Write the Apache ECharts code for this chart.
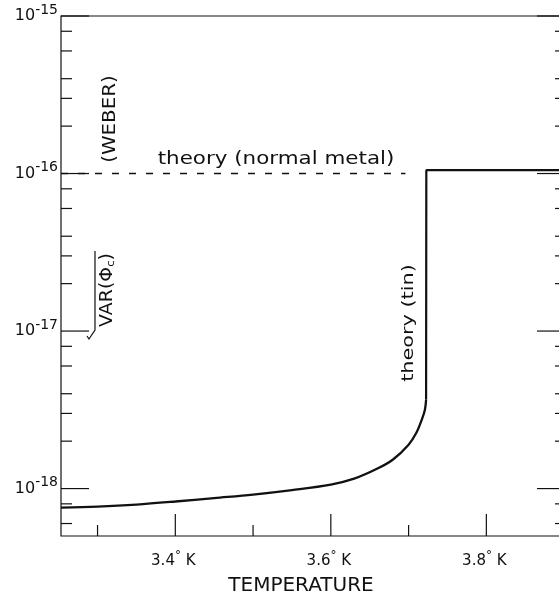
<!DOCTYPE html>
<html><head><meta charset="utf-8">
<script src="https://cdn.jsdelivr.net/npm/echarts@6/dist/echarts.min.js"></script>
<style>html,body{margin:0;padding:0;background:#fff}#c{width:559px;height:598px}</style>
</head><body><div id="c"></div>
<script>
// ---- data ----
const tinT = [3.253, 3.30, 3.35, 3.40, 3.45, 3.50, 3.55, 3.60, 3.63, 3.66, 3.68, 3.70, 3.71, 3.717, 3.721, 3.7225];
const tinV = [7.57e-19, 7.69e-19, 7.92e-19, 8.28e-19, 8.71e-19, 9.16e-19, 9.78e-19, 1.06e-18, 1.156e-18, 1.34e-18, 1.53e-18, 1.90e-18, 2.26e-18, 2.74e-18, 3.17e-18, 3.66e-18];
const stepT = [3.7225, 3.7228, 3.896];
const stepV = [3.66e-18, 1.05e-16, 1.05e-16];
const normalT = [3.253, 3.696];
const normalV = [1e-16, 1e-16];
const yMajor = [1e-18, 1e-17, 1e-16, 1e-15];
const yMajorExp = ['-18', '-17', '-16', '-15'];
const yMinor = [6e-19, 8e-19, 2e-18, 3e-18, 4e-18, 6e-18, 8e-18, 2e-17, 3e-17, 4e-17, 6e-17, 8e-17, 2e-16, 3e-16, 4e-16, 6e-16, 8e-16];
const xMajor = [3.4, 3.6, 3.8];
const xMajorLabels = ['3.4', '3.6', '3.8'];
const xMinor = [3.3, 3.5, 3.7];
const X_MIN = 3.253, X_MAX = 3.896, Y_MIN = 5e-19, Y_MAX = 1e-15;

const FONT = '"DejaVu Sans", "Liberation Sans", sans-serif';
const INK = '#111';

function yTicks(values, major) {
  return {
    type: 'custom', coordinateSystem: 'cartesian2d', clip: false, silent: true, z: 5,
    data: values.map((v, i) => [X_MIN, v, i]),
    renderItem(params, api) {
      const p = api.coord([X_MIN, api.value(1)]);
      const cs = params.coordSys;
      const l = cs.x, r = cs.x + cs.width;
      const kids = [
        {type: 'line', shape: {x1: l, y1: p[1], x2: l + (major ? 28 : 11), y2: p[1]}, style: {stroke: INK, lineWidth: 1.2}},
        {type: 'line', shape: {x1: r - (major ? 24 : 6), y1: p[1], x2: r, y2: p[1]}, style: {stroke: INK, lineWidth: 1.2}}
      ];
      if (major) {
        const idx = api.value(2);
        kids.push({type: 'text', x: l - 3, y: p[1], style: {
          text: '10{s|' + yMajorExp[idx] + '}', font: '16px ' + FONT, fill: INK,
          align: 'right', verticalAlign: 'middle', textAlign: 'right', textVerticalAlign: 'middle',
          rich: {s: {fontSize: 14, fontFamily: FONT, padding: [0, 0, 12, 0], fill: INK}}
        }});
      }
      return {type: 'group', children: kids};
    }
  };
}
function xTicks(values, major) {
  return {
    type: 'custom', coordinateSystem: 'cartesian2d', clip: false, silent: true, z: 5,
    data: values.map((v, i) => [v, Y_MIN, i]),
    renderItem(params, api) {
      const p = api.coord([api.value(0), Y_MIN]);
      const cs = params.coordSys;
      const b = cs.y + cs.height;
      const kids = [
        {type: 'line', shape: {x1: p[0], y1: b, x2: p[0], y2: b - (major ? 22 : 11)}, style: {stroke: INK, lineWidth: 1.2}}
      ];
      if (major) {
        const idx = api.value(2);
        kids.push({type: 'text', x: p[0] - 2, y: b + 25, style: {
          text: xMajorLabels[idx] + '{d|°} K', font: '15px ' + FONT, fill: INK,
          align: 'center', verticalAlign: 'middle', textAlign: 'center', textVerticalAlign: 'middle',
          rich: {d: {fontSize: 12, fontFamily: FONT, padding: [0, 0, 10, 0], fill: INK}}
        }});
      }
      return {type: 'group', children: kids};
    }
  };
}

const chart = echarts.init(document.getElementById('c'), null, {renderer: 'canvas'});
chart.setOption({
  animation: false,
  backgroundColor: '#fff',
  grid: {left: 61, top: 16, width: 500, height: 520, show: true, borderColor: INK, borderWidth: 1.2,
         backgroundColor: 'transparent', containLabel: false, outerBoundsMode: 'none'},
  xAxis: {
    type: 'value', min: X_MIN, max: X_MAX,
    axisLine: {show: false}, axisTick: {show: false}, axisLabel: {show: false}, splitLine: {show: false},
    name: 'TEMPERATURE', nameLocation: 'middle', nameGap: 40,
    nameTextStyle: {fontFamily: FONT, fontSize: 20, color: INK, padding: [0, 20, 0, 0]}
  },
  yAxis: {
    type: 'log', logBase: 10, min: Y_MIN, max: Y_MAX,
    axisLine: {show: false}, axisTick: {show: false}, axisLabel: {show: false}, splitLine: {show: false}, minorTick: {show: false}
  },
  series: [
    {type: 'line', name: 'theory (normal metal)', data: normalT.map((t, i) => [t, normalV[i]]),
     showSymbol: false, symbol: 'none', lineStyle: {color: INK, width: 1.6, type: [7, 10]}},
    {type: 'line', name: 'theory (tin)', data: tinT.map((t, i) => [t, tinV[i]]),
     showSymbol: false, symbol: 'none', smooth: 0.35, lineStyle: {color: INK, width: 2.3}},
    {type: 'line', name: 'theory (tin) step', data: stepT.map((t, i) => [t, stepV[i]]),
     showSymbol: false, symbol: 'none', lineStyle: {color: INK, width: 2.2}},
    yTicks(yMajor, true), yTicks(yMinor, false),
    xTicks(xMajor, true), xTicks(xMinor, false)
  ],
  graphic: [
    {type: 'text', x: 110, y: 119, rotation: Math.PI / 2, scaleX: 1.1, silent: true,
     style: {text: '(WEBER)', font: '18px ' + FONT, fill: INK, align: 'center', verticalAlign: 'middle', textAlign: 'center', textVerticalAlign: 'middle'}},
    {type: 'text', x: 276, y: 160, scaleX: 1.26, silent: true,
     style: {text: 'theory (normal metal)', font: '17px ' + FONT, fill: INK, align: 'center', verticalAlign: 'middle', textAlign: 'center', textVerticalAlign: 'middle'}},
    {type: 'text', x: 107, y: 290, rotation: Math.PI / 2, scaleX: 1.05, silent: true,
     style: {text: 'VAR(Φ{c|c})', font: '18px ' + FONT, fill: INK, align: 'center', verticalAlign: 'middle', textAlign: 'center', textVerticalAlign: 'middle',
             rich: {c: {fontSize: 11, fontFamily: FONT, padding: [8, 0, 0, 0], fill: INK}}}},
    {type: 'polyline', silent: true, shape: {points: [[95, 251], [95, 330], [89, 339], [87, 336]]}, style: {stroke: INK, lineWidth: 1.2, fill: null}},
    {type: 'text', x: 408.5, y: 323, rotation: Math.PI / 2, scaleX: 1.3, silent: true,
     style: {text: 'theory (tin)', font: '16px ' + FONT, fill: INK, align: 'center', verticalAlign: 'middle', textAlign: 'center', textVerticalAlign: 'middle'}}
  ]
});
</script></body></html>
